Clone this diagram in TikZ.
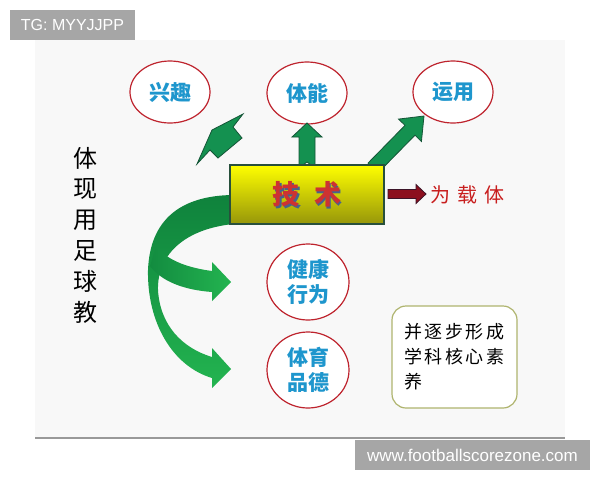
\documentclass[tikz,border=0pt]{standalone}
\usepackage{fontspec}
\setmainfont{Liberation Sans}
\newfontfamily\cjk{Noto Sans CJK SC}
\usetikzlibrary{shapes.geometric,calc}
\definecolor{ellred}{RGB}{190,35,45}
\definecolor{txtblue}{RGB}{30,150,205}
\definecolor{wmgray}{RGB}{166,166,166}
\definecolor{slidebg}{RGB}{248,248,248}
\definecolor{gdark}{RGB}{15,130,60}
\definecolor{glight}{RGB}{35,180,80}
\definecolor{garrow}{RGB}{20,145,80}
\definecolor{gedge}{RGB}{20,85,55}
\definecolor{boxedge}{RGB}{40,80,60}
\definecolor{olivebot}{RGB}{150,150,10}
\definecolor{techred}{RGB}{205,50,50}
\definecolor{techshadow}{RGB}{70,100,140}
\definecolor{carrred}{RGB}{140,15,30}
\definecolor{carredge}{RGB}{60,20,40}
\definecolor{callired}{RGB}{200,30,30}
\definecolor{corebox}{RGB}{175,180,110}
\newcommand\myarrow[7]{%
  \coordinate (hb) at ($(#2)!#5!(#1)$);
  \path[#7] ($(#1)!#3!90:(#2)$) -- ($(hb)!#3!90:(#2)$) -- ($(hb)!#4!90:(#2)$) -- (#2)
    -- ($(hb)!#4!-90:(#2)$) -- ($(hb)!#3!-90:(#2)$) -- ($(#1)!#3!-90:(#2)$) -- ($(#1)!#6!(#2)$) -- cycle;}
\begin{document}
\begin{tikzpicture}[x=1pt,y=-1pt,
  goal/.style={ellipse,draw=ellred,line width=1.2pt,fill=white,inner sep=0pt,
    minimum width=80pt,minimum height=62pt,align=center,text=txtblue,
    font=\cjk\bfseries\fontsize{21}{25}\selectfont},
  goalbig/.style={goal,minimum width=82pt,minimum height=76pt},
  uparrow/.style={fill=garrow,draw=gedge,line width=0.8pt},
  wm/.style={fill=wmgray,text=white,inner sep=0pt},
  calli/.style={font=\cjk\fontsize{20}{20}\selectfont}]
\useasboundingbox (0,0) rectangle (600,480);
\fill[white] (0,0) rectangle (600,480);
% slide
\fill[slidebg] (35,40) rectangle (565,438);
\draw[gray!80,line width=2pt] (35,438) -- (565,438);
% watermarks
\node[wm,minimum width=125pt,minimum height=30pt,font=\fontsize{16}{16}\selectfont] (wm1) at (72.5,25) {TG: MYYJJPP};
\node[wm,minimum width=235pt,minimum height=30pt,font=\fontsize{17}{17}\selectfont] (wm2) at (472.5,455) {www.footballscorezone.com};
% goals
\node[goal] (xq) at (170,92) {兴趣};
\node[goal] (tn) at (307,93) {体能};
\node[goal] (yy) at (453,92) {运用};
\node[goalbig] (jk) at (308,282) {健康\\行为};
\node[goalbig] (pd) at (308,370) {体育\\品德};
% curved green band
\path[top color=gdark,bottom color=glight]
  (250,195) -- (232,195) .. controls (180,196) and (150,220) .. (148,270)
  .. controls (147,322) and (172,366) .. (212,378) -- (212,388) -- (231,369) -- (212,348) -- (212,357)
  .. controls (182,348) and (160,325) .. (158,290) .. controls (157,255) and (185,224) .. (250,223) -- cycle;
\path[left color=gdark!80!glight,right color=glight]
  (156,247) .. controls (170,262) and (190,268) .. (212,271) -- (212,262) -- (231,282) -- (212,301) -- (212,292)
  .. controls (185,290) and (162,282) .. (150,266) -- cycle;
% up arrows
\path[uparrow] (212,130) -- (243,114) -- (233,127) -- (242,138) -- (218,158) -- (210,150) -- (197,164) -- cycle;
\coordinate (mt) at (307,168); \coordinate (mp) at (307,123);
\myarrow{mt}{mp}{8pt}{15pt}{14pt}{6pt}{uparrow}
\coordinate (rt) at (373,168); \coordinate (rp) at (424,116);
\myarrow{rt}{rp}{7pt}{16pt}{20pt}{0pt}{uparrow}
% technique box
\node[draw=boxedge,line width=1.5pt,minimum width=154pt,minimum height=59pt,
  top color=yellow,middle color=yellow!95!olivebot,bottom color=olivebot] (tech) at (307,194.5) {};
\node[text=techshadow,font=\cjk\bfseries\fontsize{27}{27}\selectfont] at ($(tech)+(1.5,1.5)$) {技\hspace{15pt}术};
\node[text=techred,font=\cjk\bfseries\fontsize{27}{27}\selectfont] (techtxt) at (tech) {技\hspace{15pt}术};
% carrier arrow
\coordinate (ct) at (388,194); \coordinate (cp) at (426,194);
\myarrow{ct}{cp}{4.5pt}{9.5pt}{10pt}{0pt}{fill=carrred,draw=carredge,line width=0.8pt}
\node[calli,text=callired] (carrier) at (467,195) {为\hspace{7pt}载\hspace{7pt}体};
% left vertical text
\node[align=center,font=\cjk\fontsize{24}{30.8}\selectfont] (left) at (85,235) {体\\现\\用\\足\\球\\教};
% core literacy box
\node[draw=corebox,line width=1.2pt,rounded corners=14pt,fill=white,minimum width=125pt,minimum height=102pt,
  align=left,text width=100pt,font=\cjk\fontsize{18}{25}\selectfont] (core) at (454.5,357)
  {并\hspace{2.5pt}逐\hspace{2.5pt}步\hspace{2.5pt}形\hspace{2.5pt}成\\学\hspace{2.5pt}科\hspace{2.5pt}核\hspace{2.5pt}心\hspace{2.5pt}素\\养};
\end{tikzpicture}
\end{document}
